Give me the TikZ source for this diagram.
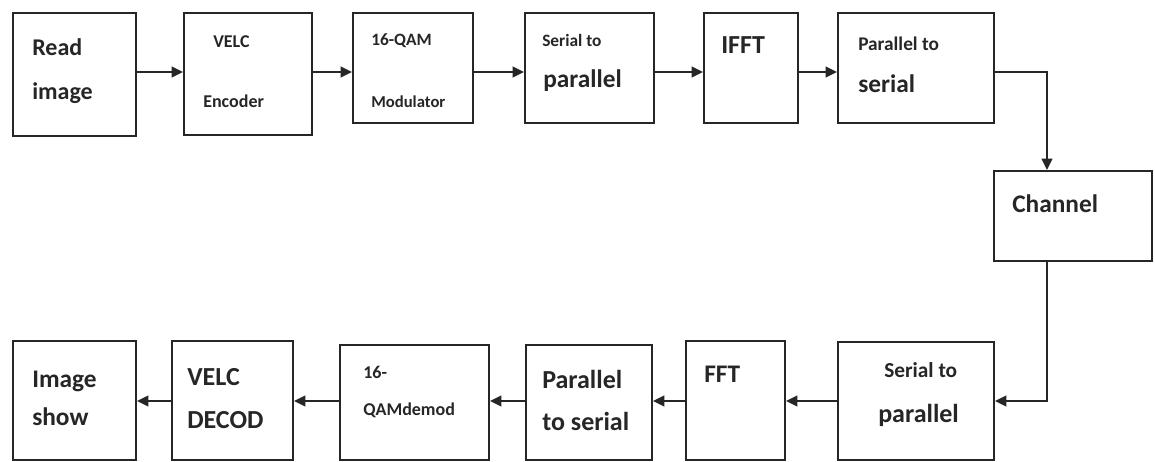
\documentclass[tikz,border=0pt]{standalone}
\usepackage{fontspec}
\setmainfont{Carlito}
\usetikzlibrary{arrows.meta}
\definecolor{inkgray}{HTML}{262626}

\begin{document}
\begin{tikzpicture}[x=0.75pt,y=-0.75pt,
  blk/.style={draw=inkgray,line width=1.6pt,fill=white,inner sep=0pt},
  lbl/.style={anchor=base west,inner sep=0pt,text=inkgray},
  flow/.style={draw=inkgray,line width=1.6pt,-{Triangle[length=8.5pt,width=8pt]}}]
\useasboundingbox (0,0) rectangle (1155,461);
\clip (0,0) rectangle (1155,461);
\fill[white] (0,0) rectangle (1155,461);
% blocks: name/left/top/right/bottom
\foreach \n/\a/\c/\b/\d in {read/13/13/136/136,enc/184/13/312/135,mod/353/13/473/123,
  sp1/525/13/654/123,ifft/704/13/798/123,ps1/838/13/994/123,chan/994/171/1152/261,
  sp2/838/342/994/460,fft/686/341/785/460,ps2/526/345/652/460,dem/340/345/489/460,
  dec/172/341/293/460,show/13/341/136/460}
  \node[blk,minimum width={(\b-\a)*0.75pt},minimum height={(\d-\c)*0.75pt}] (\n) at ({(\a+\b)/2},{(\c+\d)/2}) {};
% texts: name/x/baseline/size/series/text
\foreach \n/\x/\y/\s/\f/\t in {read1/32/55/18/\bfseries/Read,read2/32/99/18/\bfseries/image,
  enc1/213/47/13.5/\bfseries/VELC,enc2/203/107/13.5/\bfseries/Encoder,
  mod1/371/45/13/\bfseries/16-QAM,mod2/371/107/12.5/\bfseries/Modulator,
  sp1a/542/46/13/\bfseries/Serial to,sp1b/543/87/19/\bfseries/parallel,
  ifft1/721/53/19.5/\bfseries/IFFT,
  ps1a/858/50/14.5/\bfseries/Parallel to,ps1b/858/92/19/\bfseries/serial,
  chan1/1012/212/19/\bfseries/Channel,
  show1/32/387/19/\bfseries/Image,show2/32/425/19/\bfseries/show,
  dec1/187/385/19.5/\bfseries/VELC,dec2/187/428/19.5/\bfseries/DECOD,
  dem1/363/378/13.5/\bfseries/16-,dem2/363/415/13.5/\bfseries/QAMdemod,
  ps2a/542/388/19.5/\bfseries/Parallel,ps2b/542/430/19.5/\bfseries/to serial,
  fft1/704/382/19/\bfseries/FFT,
  sp2a/884/377/16/\bfseries/Serial to,sp2b/878/422/19.5/\bfseries/parallel}
  \node[lbl,font={\fontsize{\s}{\s}\selectfont\f}] (\n) at (\x,\y) {\t};
% connectors
\coordinate (toprow) at (0,72);
\coordinate (botrow) at (0,401);
\coordinate (drop) at (1047,0);
\draw[flow] (read.east |- toprow) -- (enc.west |- toprow);
\draw[flow] (enc.east |- toprow) -- (mod.west |- toprow);
\draw[flow] (mod.east |- toprow) -- (sp1.west |- toprow);
\draw[flow] (sp1.east |- toprow) -- (ifft.west |- toprow);
\draw[flow] (ifft.east |- toprow) -- (ps1.west |- toprow);
\draw[flow] (ps1.east |- toprow) -| (drop |- chan.north);
\draw[flow] (drop |- chan.south) |- (sp2.east |- botrow);
\draw[flow] (sp2.west |- botrow) -- (fft.east |- botrow);
\draw[flow] (fft.west |- botrow) -- (ps2.east |- botrow);
\draw[flow] (ps2.west |- botrow) -- (dem.east |- botrow);
\draw[flow] (dem.west |- botrow) -- (dec.east |- botrow);
\draw[flow] (dec.west |- botrow) -- (show.east |- botrow);
\end{tikzpicture}
\end{document}
